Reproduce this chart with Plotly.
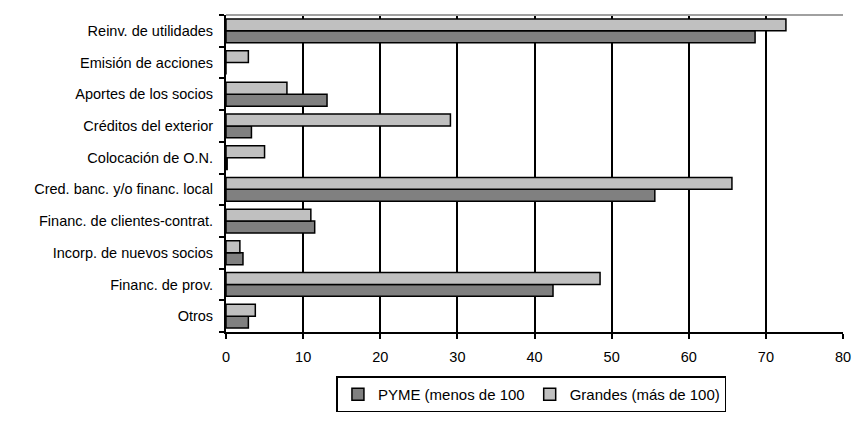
import plotly.graph_objects as go

categories = ["Reinv. de utilidades", "Emisión de acciones", "Aportes de los socios",
              "Créditos del exterior", "Colocación de O.N.", "Cred. banc. y/o financ. local",
              "Financ. de clientes-contrat.", "Incorp. de nuevos socios", "Financ. de prov.", "Otros"]
pyme = [68.6, 0, 13.1, 3.3, 0.15, 55.6, 11.5, 2.2, 42.4, 2.9]
grandes = [72.6, 2.9, 7.9, 29.1, 5.0, 65.6, 11.0, 1.8, 48.5, 3.8]
x_ticks = [0, 10, 20, 30, 40, 50, 60, 70, 80]

font_family = "Liberation Sans Narrow, Arial Narrow, Liberation Sans, Arial, sans-serif"

fig = go.Figure()
fig.add_trace(go.Bar(y=categories, x=pyme, orientation="h", name="PYME (menos de 100",
                     marker=dict(color="#808080", line=dict(color="#000000", width=1.5))))
fig.add_trace(go.Bar(y=categories, x=grandes, orientation="h", name="Grandes (más de 100)",
                     marker=dict(color="#C0C0C0", line=dict(color="#000000", width=1.5))))

fig.update_layout(
    width=863, height=424,
    margin=dict(l=226, r=12, t=15, b=89),
    paper_bgcolor="white", plot_bgcolor="white",
    barmode="group", bargap=0.25, bargroupgap=0.0,
    font=dict(family=font_family, size=14.5, color="#000000"),
    showlegend=True,
    legend=dict(orientation="h", x=0.179, xanchor="left", y=-0.14, yanchor="top",
                bordercolor="#000000", borderwidth=1.5, font=dict(size=15),
                itemwidth=30, traceorder="normal", tracegroupgap=0),
    xaxis=dict(range=[0, 80], tickvals=x_ticks, showgrid=True, gridcolor="#000000", gridwidth=2,
               showline=True, linecolor="#000000", linewidth=2, ticks="outside", ticklen=5,
               tickwidth=2, tickcolor="#000000", zeroline=False, fixedrange=True,
               ticklabelstandoff=6),
    yaxis=dict(categoryorder="array", categoryarray=categories[::-1], showline=True,
               linecolor="#000000", linewidth=2, ticks="outside", ticklen=5, tickwidth=2,
               tickcolor="#000000", tickson="boundaries", showgrid=False, zeroline=False,
               ticklabelstandoff=8),
)
fig.add_shape(type="line", xref="paper", yref="paper", x0=0, x1=1, y0=1, y1=1,
              line=dict(color="#A0A0A0", width=2))
fig.write_html("out.html")
